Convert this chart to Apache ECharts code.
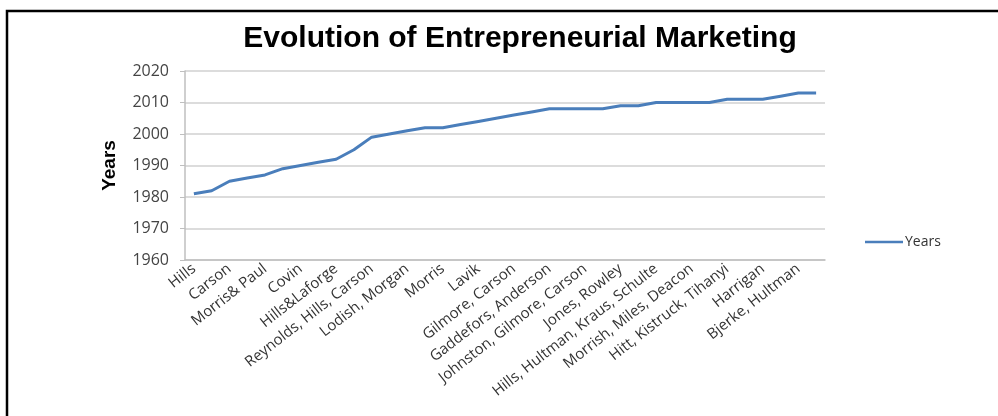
<!DOCTYPE html>
<html>
<head>
<meta charset="utf-8">
<title>Evolution of Entrepreneurial Marketing</title>
<script src="https://cdn.jsdelivr.net/npm/echarts@6/dist/echarts.min.js"></script>
<style>
  html, body { margin: 0; padding: 0; background: #fff; }
  #chart { width: 998px; height: 416px; }
</style>
</head>
<body>
<div id="chart"></div>
<script>
// authors: only every other name is printed on the axis, the others are unreadable
const categories = [
  "Hills", "", "Carson", "", "Morris& Paul", "", "Covin", "", "Hills&Laforge", "",
  "Reynolds, Hills, Carson", "", "Lodish, Morgan", "", "Morris", "", "Lavik", "",
  "Gilmore, Carson", "", "Gaddefors, Anderson", "", "Johnston, Gilmore, Carson", "",
  "Jones, Rowley", "", "Hills, Hultman, Kraus, Schulte", "", "Morrish, Miles, Deacon", "",
  "Hitt, Kistruck, Tihanyi", "", "Harrigan", "", "Bjerke, Hultman", ""
];

const years = [
  1981, 1982, 1985, 1986, 1987, 1989, 1990, 1991, 1992, 1995,
  1999, 2000, 2001, 2002, 2002, 2003, 2004, 2005, 2006, 2007,
  2008, 2008, 2008, 2008, 2009, 2009, 2010, 2010, 2010, 2010,
  2011, 2011, 2011, 2012, 2013, 2013
];

const yMin = 1960;
const yMax = 2020;
const yStep = 10;

const lineColor = "#4a7ebb";
const chart = echarts.init(document.getElementById("chart"));

chart.setOption({
  animation: false,
  title: {
    text: "Evolution of Entrepreneurial Marketing",
    left: 515,
    textAlign: "center",
    top: 19,
    textStyle: {
      fontFamily: "Liberation Sans",
      fontWeight: "bold",
      fontSize: 30,
      color: "#000"
    }
  },
  graphic: [
    {
      type: "rect",
      shape: { x: 7, y: 11, width: 2000, height: 1000 },
      style: { fill: "none", stroke: "#000", lineWidth: 2.5 },
      silent: true
    }
  ],
  legend: {
    data: ["Years"],
    left: 860,
    top: 230,
    icon: "rect",
    itemWidth: 38,
    itemHeight: 2.5,
    itemGap: 2,
    itemStyle: { color: lineColor },
    textStyle: {
      fontFamily: "Open Sans",
      fontSize: 14,
      color: "#333",
      padding: [0, 0, 0, -3]
    }
  },
  grid: {
    left: 185,
    right: 173,
    top: 71,
    bottom: 156,
    containLabel: false
  },
  xAxis: {
    type: "category",
    data: categories,
    boundaryGap: true,
    axisLine: { lineStyle: { color: "#bfbfbf", width: 1.5 } },
    axisTick: { show: false },
    axisLabel: {
      interval: 0,
      rotate: 38,
      margin: 7,
      fontFamily: "Open Sans",
      fontSize: 15,
      color: "#333"
    }
  },
  yAxis: {
    type: "value",
    name: "Years",
    nameLocation: "middle",
    nameGap: 66,
    nameRotate: 90,
    nameTextStyle: {
      fontFamily: "Liberation Sans",
      fontWeight: "bold",
      fontSize: 19,
      color: "#000"
    },
    min: yMin,
    max: yMax,
    interval: yStep,
    axisLine: { show: true, lineStyle: { color: "#bfbfbf", width: 1.5 } },
    axisTick: { show: true, length: 5, lineStyle: { color: "#bfbfbf" } },
    axisLabel: {
      fontFamily: "Open Sans",
      fontSize: 16,
      color: "#444",
      margin: 16,
      formatter: (value) => String(value)
    },
    splitLine: { lineStyle: { color: "#d0d0d0", width: 1.5 } }
  },
  series: [
    {
      name: "Years",
      type: "line",
      data: years,
      symbol: "none",
      lineStyle: { color: lineColor, width: 3 },
      itemStyle: { color: lineColor }
    }
  ]
});
</script>
</body>
</html>
